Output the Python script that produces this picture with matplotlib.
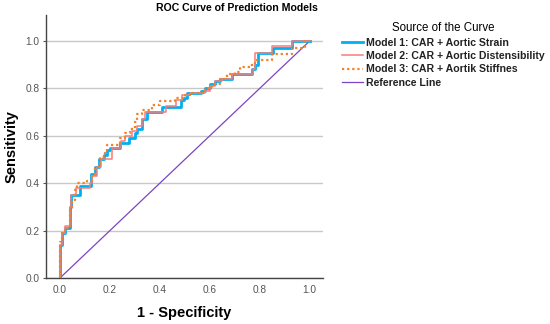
import matplotlib
matplotlib.use('Agg')
import matplotlib.pyplot as plt

plt.rcParams['font.family'] = ['Liberation Sans', 'DejaVu Sans']

# ROC step points: (1 - specificity, sensitivity) after each jump
m1_fpr = [0, 0, 0.01, 0.02, 0.04, 0.045, 0.08, 0.125, 0.14, 0.155, 0.175, 0.19, 0.2, 0.24, 0.275,
          0.3, 0.31, 0.33, 0.35, 0.41, 0.485, 0.495, 0.51, 0.565, 0.58, 0.6, 0.62, 0.64, 0.69,
          0.77, 0.78, 0.795, 0.855, 0.93, 1.0]
m1_tpr = [0, 0.14, 0.19, 0.21, 0.30, 0.35, 0.39, 0.44, 0.47, 0.50, 0.52, 0.54, 0.55, 0.57, 0.59,
          0.61, 0.63, 0.67, 0.70, 0.72, 0.75, 0.76, 0.78, 0.79, 0.80, 0.82, 0.83, 0.84, 0.86,
          0.88, 0.90, 0.95, 0.97, 1.0, 1.0]

m2_fpr = [0, 0, 0.01, 0.02, 0.04, 0.045, 0.065, 0.12, 0.13, 0.15, 0.165, 0.21, 0.245, 0.26, 0.29,
          0.31, 0.33, 0.34, 0.425, 0.465, 0.49, 0.52, 0.58, 0.6, 0.62, 0.65, 0.69, 0.775, 0.78,
          0.85, 0.93, 1.0]
m2_tpr = [0, 0.14, 0.19, 0.22, 0.30, 0.35, 0.38, 0.40, 0.43, 0.47, 0.50, 0.55, 0.58, 0.60, 0.62,
          0.64, 0.67, 0.70, 0.725, 0.75, 0.77, 0.78, 0.79, 0.81, 0.83, 0.84, 0.86, 0.88, 0.95,
          0.98, 1.0, 1.0]

m3_fpr = [0, 0, 0.01, 0.02, 0.04, 0.05, 0.06, 0.07, 0.11, 0.13, 0.14, 0.16, 0.18, 0.19, 0.24,
          0.26, 0.28, 0.3, 0.31, 0.33, 0.37, 0.40, 0.46, 0.50, 0.53, 0.58, 0.61, 0.64, 0.67,
          0.7, 0.72, 0.76, 0.78, 0.85, 0.93, 0.98, 1.0]
m3_tpr = [0, 0.15, 0.19, 0.21, 0.29, 0.33, 0.37, 0.40, 0.41, 0.43, 0.47, 0.51, 0.53, 0.56, 0.59,
          0.61, 0.63, 0.66, 0.69, 0.71, 0.73, 0.745, 0.76, 0.77, 0.78, 0.80, 0.82, 0.84, 0.86,
          0.87, 0.89, 0.90, 0.92, 0.945, 0.97, 1.0, 1.0]

ref_x = [0, 1]
ref_y = [0, 1]

labels = ['Model 1: CAR + Aortic Strain',
          'Model 2: CAR + Aortic Distensibility',
          'Model 3: CAR + Aortik Stiffnes',
          'Reference Line']

fig = plt.figure(figsize=(5.5, 3.24), dpi=100)
ax = fig.add_axes([0.0836, 0.142, 0.503, 0.812])

ax.plot(m1_fpr, m1_tpr, drawstyle='steps-post', color='#00B0F0', lw=2.0, label=labels[0], zorder=3)
ax.plot(m2_fpr, m2_tpr, drawstyle='steps-post', color='#F87C7C', lw=1.1, label=labels[1], zorder=4)
ax.plot(m3_fpr, m3_tpr, drawstyle='steps-post', color='#F0822A', lw=1.6, ls=(0, (1, 1.3)),
        label=labels[2], zorder=5)
ax.plot(ref_x, ref_y, color='#7D44C2', lw=0.9, label=labels[3], zorder=2)

ax.set_xlim(-0.056, 1.052)
ax.set_ylim(0, 1.11)
ticks = [0.0, 0.2, 0.4, 0.6, 0.8, 1.0]
ax.set_xticks(ticks)
ax.set_yticks(ticks)
ax.set_xticklabels(['%.1f' % t for t in ticks])
ax.set_yticklabels(['%.1f' % t for t in ticks])
ax.tick_params(labelsize=7.3, colors='#555555', labelcolor='#555555')
ax.tick_params(axis='y', length=2.5, width=0.8, pad=2)
ax.tick_params(axis='x', length=0, pad=5)
ax.yaxis.grid(True, color='#C8C8C8', lw=1)
ax.set_axisbelow(True)
for s in ['top', 'right']:
    ax.spines[s].set_visible(False)
for s in ['left', 'bottom']:
    ax.spines[s].set_color('#444444')
    ax.spines[s].set_linewidth(1)

ax.set_xlabel('1 - Specificity', fontsize=10.5, fontweight='bold', labelpad=8)
ax.set_ylabel('Sensitivity', fontsize=10.5, fontweight='bold', labelpad=5)

fig.text(0.431, 0.975, 'ROC Curve of Prediction Models', fontsize=7.6, fontweight='bold',
         ha='center', va='center')

leg = ax.legend(loc='upper left', bbox_to_anchor=(0.612, 0.948), bbox_transform=fig.transFigure,
                frameon=False, title='Source of the Curve', fontsize=7.6, title_fontsize=8.3,
                handlelength=2.0, handletextpad=0.3, labelspacing=0.32, borderpad=0)
for t in leg.get_texts():
    t.set_fontweight('bold')
    t.set_color('#222222')

fig.savefig('out.png', dpi=100)
